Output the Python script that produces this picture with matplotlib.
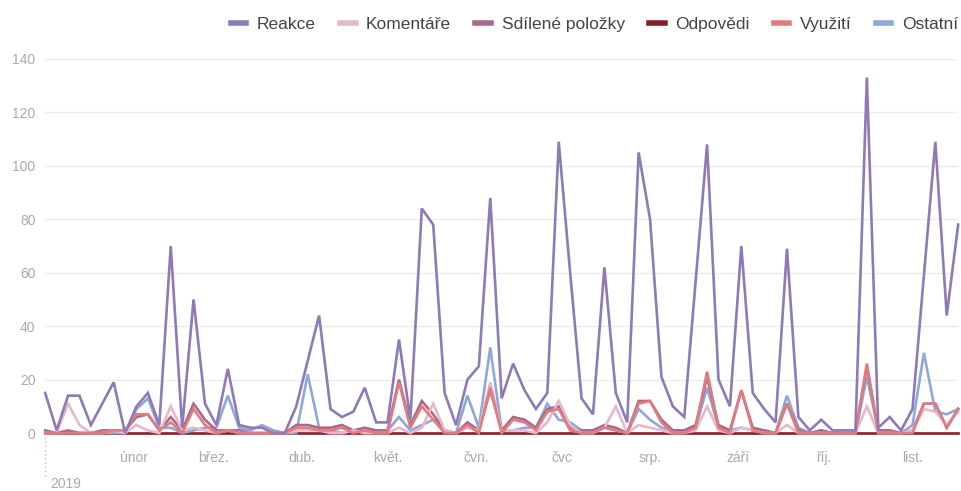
import matplotlib.pyplot as plt
import pandas as pd

dates = pd.date_range("2019-01-01", periods=81, freq="4D")

reakce = [15, 1, 14, 14, 3, 11, 19, 0, 10, 15, 3, 70, 2, 50, 11, 3, 24, 3, 2, 2,
          0, 0, 10, 27, 44, 9, 6, 8, 17, 4, 4, 35, 5, 84, 78, 15, 3, 20, 25, 88,
          13, 26, 16, 9, 15, 109, 60, 13, 7, 62, 15, 4, 105, 80, 21, 10, 6, 57, 108, 20,
          10, 70, 15, 9, 4, 69, 6, 1, 5, 1, 1, 1, 133, 2, 6, 1, 9, 59, 109, 44,
          78]
komentare = [0, 0, 11, 3, 0, 0, 1, 0, 3, 1, 0, 10, 1, 2, 1, 0, 1, 0, 0, 0,
             0, 0, 1, 1, 1, 0, 0, 1, 0, 0, 0, 2, 0, 2, 11, 1, 0, 2, 1, 19,
             1, 1, 1, 0, 4, 12, 3, 0, 0, 2, 10, 0, 3, 2, 1, 0, 0, 1, 10, 1,
             0, 2, 1, 0, 0, 3, 0, 0, 0, 0, 0, 0, 10, 0, 0, 0, 1, 9, 8, 3,
             8]
sdilene = [1, 0, 1, 0, 0, 1, 1, 1, 6, 7, 1, 6, 1, 11, 5, 1, 1, 1, 0, 0,
           0, 0, 3, 3, 2, 2, 3, 1, 2, 1, 1, 20, 3, 12, 7, 1, 0, 4, 1, 16,
           1, 6, 5, 2, 9, 10, 2, 1, 1, 3, 2, 0, 12, 12, 5, 1, 1, 3, 21, 3,
           1, 16, 2, 1, 0, 11, 1, 0, 1, 0, 0, 0, 25, 1, 1, 0, 1, 11, 11, 2,
           9]
odpovedi = [0] * 81
vyuziti = [0, 0, 0, 0, 0, 0, 1, 1, 7, 7, 1, 4, 0, 9, 3, 0, 1, 0, 0, 0,
           0, 0, 2, 2, 1, 1, 2, 0, 1, 0, 0, 19, 2, 10, 5, 0, 0, 3, 0, 17,
           0, 5, 4, 1, 8, 9, 1, 0, 0, 2, 1, 0, 11, 12, 4, 0, 0, 2, 23, 2,
           0, 16, 1, 0, 0, 11, 0, 0, 0, 0, 0, 0, 26, 0, 0, 0, 0, 11, 11, 2,
           9]
ostatni = [0, 0, 0, 0, 0, 0, 0, 0, 9, 13, 2, 2, 0, 1, 2, 2, 14, 2, 1, 3,
           1, 0, 0, 22, 2, 1, 0, 1, 0, 1, 1, 6, 1, 3, 5, 1, 0, 14, 2, 32,
           1, 1, 2, 2, 11, 5, 4, 1, 1, 2, 1, 0, 9, 5, 2, 1, 1, 2, 17, 2,
           1, 2, 1, 1, 0, 14, 2, 0, 1, 0, 0, 0, 21, 1, 1, 0, 3, 30, 8, 7,
           9]

series = [
    ("Reakce", reakce, "#8f79b9"),
    ("Komentáře", komentare, "#e6b8ca"),
    ("Sdílené položky", sdilene, "#a8698a"),
    ("Odpovědi", odpovedi, "#8b1c2c"),
    ("Využití", vyuziti, "#e27b7f"),
    ("Ostatní", ostatni, "#8fa8da"),
]
# stacking order, bottom first (Reakce ends on top)
draw_order = ["Odpovědi", "Ostatní", "Sdílené položky", "Komentáře", "Využití", "Reakce"]

month_starts = pd.date_range("2019-02-01", periods=10, freq="MS")
month_labels = ["únor", "břez.", "dub.", "květ.", "čvn.", "čvc", "srp.", "září", "říj.", "list."]

plt.rcParams["font.family"] = ["Liberation Sans", "DejaVu Sans"]

fig = plt.figure(figsize=(9.62, 4.91), dpi=100)
ax = fig.add_axes([0.047, 0.118, 0.949, 0.762])

lookup = {name: (vals, col) for name, vals, col in series}
lines = {}
for z, name in enumerate(draw_order):
    vals, col = lookup[name]
    lines[name], = ax.plot(dates, vals, color=col, lw=1.9, label=name, zorder=2 + z,
                           clip_on=False, solid_joinstyle="miter")

ax.set_ylim(0, 140)
ax.set_xlim(dates[0], dates[-1])
ax.set_yticks(range(0, 141, 20))
ax.grid(axis="y", color="#eeeeee", lw=1)
ax.set_axisbelow(True)
for s in ax.spines.values():
    s.set_visible(False)

ax.set_xticks(month_starts)
ax.set_xticklabels(month_labels)
ax.tick_params(axis="both", length=0, colors="#aaaaaa", labelsize=10)
ax.tick_params(axis="x", pad=13)
ax.tick_params(axis="y", pad=7)

# year marker at the left edge
ax.plot([0, 0], [-0.01, -0.115], transform=ax.transAxes, color="#b5c0d8",
        lw=1, ls=(0, (1, 2)), clip_on=False)
ax.text(0.005, -0.137, "2019", transform=ax.transAxes, color="#aaaaaa",
        fontsize=10, va="center", ha="left")

leg = fig.legend([lines[n] for n, _, _ in series], [n for n, _, _ in series],
                 loc="upper right", bbox_to_anchor=(1.012, 0.998), ncol=6,
                 frameon=False, fontsize=12.5, handlelength=0.9,
                 handletextpad=0.6, columnspacing=1.4)
for line in leg.get_lines():
    line.set_linewidth(4)
for t in leg.get_texts():
    t.set_color("#444444")

fig.savefig("out.png", dpi=100)
